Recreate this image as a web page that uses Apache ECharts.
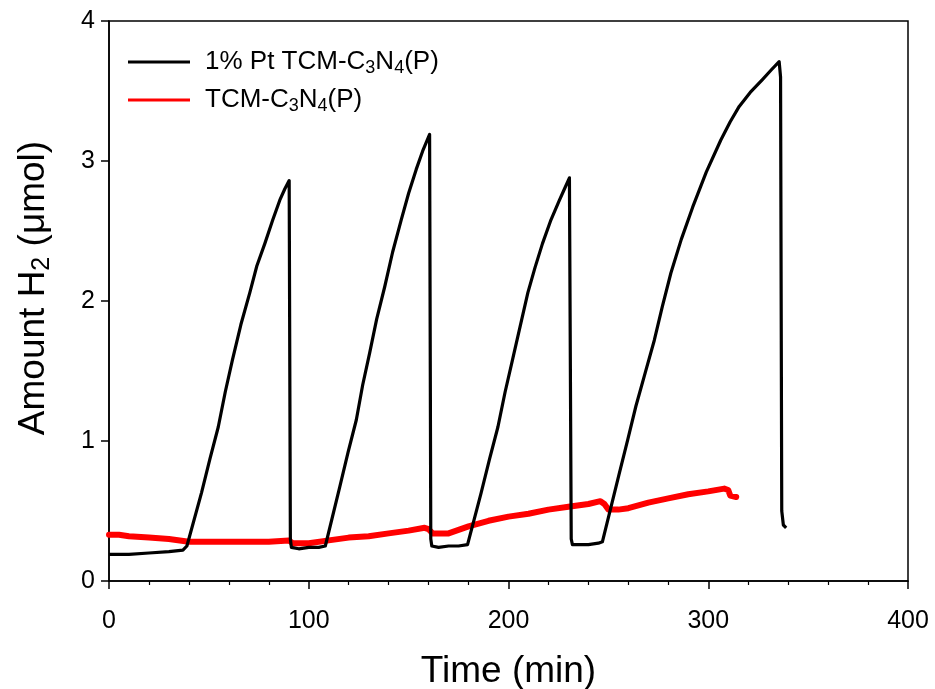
<!DOCTYPE html>
<html>
<head>
<meta charset="utf-8">
<script src="https://cdn.jsdelivr.net/npm/echarts@6/dist/echarts.min.js"></script>
<style>
  html, body { margin: 0; padding: 0; background: #fff; }
  #chart { width: 935px; height: 689px; }
</style>
</head>
<body>
<div id="chart"></div>
<script>
// ---- Data ----
const xTicks = [0, 100, 200, 300, 400];
const yTicks = [0, 1, 2, 3, 4];

const seriesNames = ['1% Pt TCM-C3N4(P)', 'TCM-C3N4(P)'];

// 1% Pt TCM-C3N4(P): time (min)
const ptTime = [0, 10, 20, 30, 37, 39, 46.3, 50.5, 54.7, 58.2, 61.8, 66, 70.5, 74, 78, 82, 85.5, 88, 90.2,
  90.8, 91.3, 95, 100, 105, 108.3, 115.5, 119.7, 123.8, 127, 130.5, 134, 138, 142, 146.3, 150, 153.8, 157, 160.5,
  161.1, 161.6, 165, 170, 175, 179.5, 186.3, 190.5, 194.7, 198.3, 202, 206, 209.7, 213.3, 217, 221, 225.5, 228, 230.5,
  231.4, 232, 236, 240, 245, 247, 255.5, 259.7, 263.8, 268.5, 273, 277, 281.3, 286.5, 292.2, 299, 306.3, 311, 315.5, 321, 327, 331.5, 335.5,
  336.2, 336.8, 337.6, 339];
// amount H2 (umol)
const ptAmount = [0.19, 0.19, 0.20, 0.21, 0.22, 0.25, 0.63, 0.87, 1.10, 1.35, 1.58, 1.83, 2.06, 2.25, 2.41, 2.58, 2.72, 2.80, 2.86,
  0.30, 0.24, 0.23, 0.24, 0.24, 0.25, 0.67, 0.92, 1.15, 1.40, 1.63, 1.87, 2.10, 2.35, 2.58, 2.77, 2.94, 3.07, 3.19,
  0.30, 0.25, 0.24, 0.25, 0.25, 0.26, 0.63, 0.87, 1.10, 1.35, 1.58, 1.83, 2.06, 2.24, 2.41, 2.57, 2.72, 2.80, 2.88,
  0.30, 0.26, 0.26, 0.26, 0.27, 0.28, 0.77, 1.01, 1.25, 1.49, 1.72, 1.96, 2.20, 2.44, 2.67, 2.92, 3.15, 3.28, 3.39, 3.49, 3.58, 3.65, 3.71,
  3.60, 0.50, 0.40, 0.38];

// TCM-C3N4(P)
const bareTime = [0, 5, 10, 20, 30, 40, 50, 60, 70, 80, 90, 92, 95, 100, 110, 120, 130, 140,
  150, 158, 160, 162, 170, 180, 190, 200, 210, 220, 230, 240, 246, 248, 250, 255, 260,
  270, 280, 290, 300, 308, 310, 311, 314];
const bareAmount = [0.33, 0.33, 0.32, 0.31, 0.30, 0.28, 0.28, 0.28, 0.28, 0.28, 0.29, 0.27, 0.27,
  0.27, 0.29, 0.31, 0.32, 0.34, 0.36, 0.38, 0.37, 0.34, 0.34, 0.39, 0.43, 0.46, 0.48, 0.51,
  0.53, 0.55, 0.57, 0.55, 0.51, 0.51, 0.52, 0.56, 0.59, 0.62, 0.64, 0.66, 0.65, 0.61, 0.60];

function zip(a, b) { return a.map((v, i) => [v, b[i]]); }

const FONT = '"Liberation Sans", Arial, sans-serif';

const chart = echarts.init(document.getElementById('chart'), null, { renderer: 'canvas' });

const option = {
  animation: false,
  backgroundColor: '#fff',
  textStyle: { fontFamily: FONT, color: '#000' },
  grid: {
    left: 109, right: 27, top: 21, bottom: 108,
    outerBoundsMode: 'none', containLabel: false,
    show: true, borderColor: '#000', borderWidth: 1.5, backgroundColor: 'transparent'
  },
  legend: {
    left: 128, top: 47, orient: 'vertical', padding: 0,
    icon: 'rect', itemWidth: 62, itemHeight: 3, itemGap: 8,
    data: seriesNames,
    formatter: function (name) { return name.replace('C3N4', 'C{s|3}N{s|4}'); },
    textStyle: {
      fontFamily: FONT, fontSize: 26, color: '#000', lineHeight: 27,
      padding: [0, 0, 0, 10],
      rich: {
        s: { fontFamily: FONT, fontSize: 18, color: '#000', padding: [12, 0, 0, 0], lineHeight: 27 }
      }
    }
  },
  xAxis: {
    type: 'value', min: xTicks[0], max: xTicks[xTicks.length - 1], interval: 100,
    name: 'Time (min)', nameLocation: 'middle', nameGap: 72,
    nameTextStyle: { fontFamily: FONT, fontSize: 37, color: '#000' },
    axisLine: { show: true, onZero: false, lineStyle: { color: '#000', width: 1.5 } },
    axisTick: { show: true, length: 8, lineStyle: { color: '#000', width: 1.5 } },
    minorTick: { show: true, splitNumber: 5, length: 4, lineStyle: { color: '#000', width: 1.2 } },
    axisLabel: { fontFamily: FONT, fontSize: 25, color: '#000', margin: 28 },
    splitLine: { show: false }
  },
  yAxis: {
    type: 'value', min: yTicks[0], max: yTicks[yTicks.length - 1], interval: 1,
    name: 'Amount H{s|2} (\u03bcmol)', nameLocation: 'middle', nameGap: 54, nameRotate: 90,
    nameTextStyle: {
      fontFamily: FONT, fontSize: 37, color: '#000', padding: [0, 0, 0, 26],
      rich: { s: { fontFamily: FONT, fontSize: 25, color: '#000', padding: [18, 0, 0, 0] } }
    },
    axisLine: { show: true, onZero: false, lineStyle: { color: '#000', width: 1.5 } },
    axisTick: { show: true, length: 8, lineStyle: { color: '#000', width: 1.5 } },
    axisLabel: { fontFamily: FONT, fontSize: 25, color: '#000', margin: 14 },
    splitLine: { show: false }
  },
  series: [
    {
      name: seriesNames[0], type: 'line', showSymbol: false, z: 3,
      color: '#000',
      lineStyle: { color: '#000', width: 3.2, join: 'round' },
      data: zip(ptTime, ptAmount)
    },
    {
      name: seriesNames[1], type: 'line', showSymbol: false, z: 2,
      color: '#ff0000',
      lineStyle: { color: '#ff0000', width: 6, join: 'round', cap: 'round' },
      data: zip(bareTime, bareAmount)
    }
  ]
};

chart.setOption(option);
</script>
</body>
</html>
